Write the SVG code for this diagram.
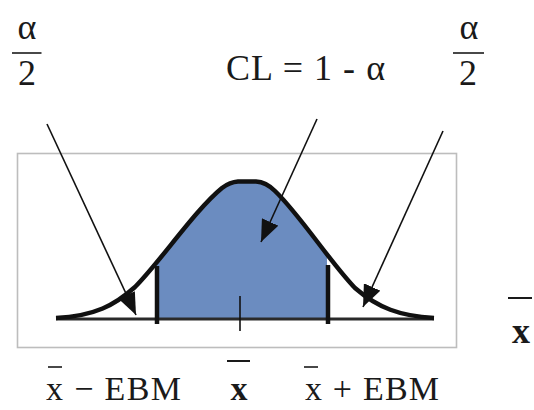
<svg xmlns="http://www.w3.org/2000/svg" width="534" height="410" viewBox="0 0 534 410">
<style>
.t{font-family:"Liberation Serif","Times New Roman",serif;font-size:36px;fill:#1a1a1a}
.s{font-size:34px}
.b{font-weight:bold}
.bar{stroke:#1a1a1a;stroke-width:1.6}
.arr{stroke:#111;stroke-width:1.6;fill:none;marker-end:url(#ah)}
</style>
<defs>
<marker id="ah" viewBox="0 0 22 18" markerWidth="22" markerHeight="18" refX="22" refY="9" orient="auto" markerUnits="userSpaceOnUse">
<path d="M0,0 L22,9 L0,18 z" fill="#111"/>
</marker>
<clipPath id="mid"><rect x="157" y="150" width="170" height="170"/></clipPath>
</defs>
<rect id="frame" x="17.5" y="153.5" width="439" height="194" fill="none" stroke="#bdbdbd" stroke-width="1.6"/>
<g id="curve">
<path clip-path="url(#mid)" d="M56,318 C95,316 115,305 135,287 C160,262 195,210 222,188 Q230,182 238,181.5 L256,181.5 Q266,182 275,191 C300,215 330,262 355,288 C378,308 400,316 434,318 Z" fill="#6b8cc0"/>
<line x1="56" y1="319" x2="434" y2="319" stroke="#2a2a2a" stroke-width="3"/>
<path d="M56,318 C95,316 115,305 135,287 C160,262 195,210 222,188 Q230,182 238,181.5 L256,181.5 Q266,182 275,191 C300,215 330,262 355,288 C378,308 400,316 434,318" fill="none" stroke="#111" stroke-width="4.5"/>
<line x1="157" y1="266" x2="157" y2="324" stroke="#111" stroke-width="4.5"/>
<line x1="328" y1="265" x2="328" y2="324" stroke="#111" stroke-width="4.5"/>
<line x1="240" y1="296" x2="240" y2="331" stroke="#111" stroke-width="1.6"/>
</g>
<g id="connectors">
<line class="arr" x1="47" y1="124" x2="136" y2="315"/>
<line class="arr" x1="317" y1="119" x2="261" y2="242"/>
<line class="arr" x1="443" y1="131" x2="363" y2="307"/>
</g>
<g id="alpha-left">
<text class="t" x="27" y="39" text-anchor="middle">α</text>
<line class="bar" x1="12" y1="53" x2="41.5" y2="53"/>
<text class="t" x="27" y="85" text-anchor="middle">2</text>
</g>
<g id="alpha-right">
<text class="t" x="469" y="39" text-anchor="middle">α</text>
<line class="bar" x1="453" y1="53" x2="484" y2="53"/>
<text class="t" x="468" y="85" text-anchor="middle">2</text>
</g>
<g id="cl">
<text class="t" x="226" y="80" textLength="159" lengthAdjust="spacing">CL = 1 - α</text>
</g>
<g id="label-lower">
<text class="t s" x="46" y="400" textLength="135" lengthAdjust="spacing">x − EBM</text>
<line class="bar" x1="48" y1="367" x2="62" y2="367"/>
</g>
<g id="label-mean">
<text class="t s b" x="239" y="400" text-anchor="middle">x</text>
<line x1="227" y1="361" x2="250" y2="361" stroke="#1a1a1a" stroke-width="2"/>
</g>
<g id="label-upper">
<text class="t s" x="305" y="400" textLength="134" lengthAdjust="spacing">x + EBM</text>
<line class="bar" x1="304" y1="367" x2="318" y2="367"/>
</g>
<g id="axis-label">
<text class="t b" x="512" y="343">x</text>
<line x1="508" y1="298" x2="532" y2="298" stroke="#1a1a1a" stroke-width="2"/>
</g>
</svg>
